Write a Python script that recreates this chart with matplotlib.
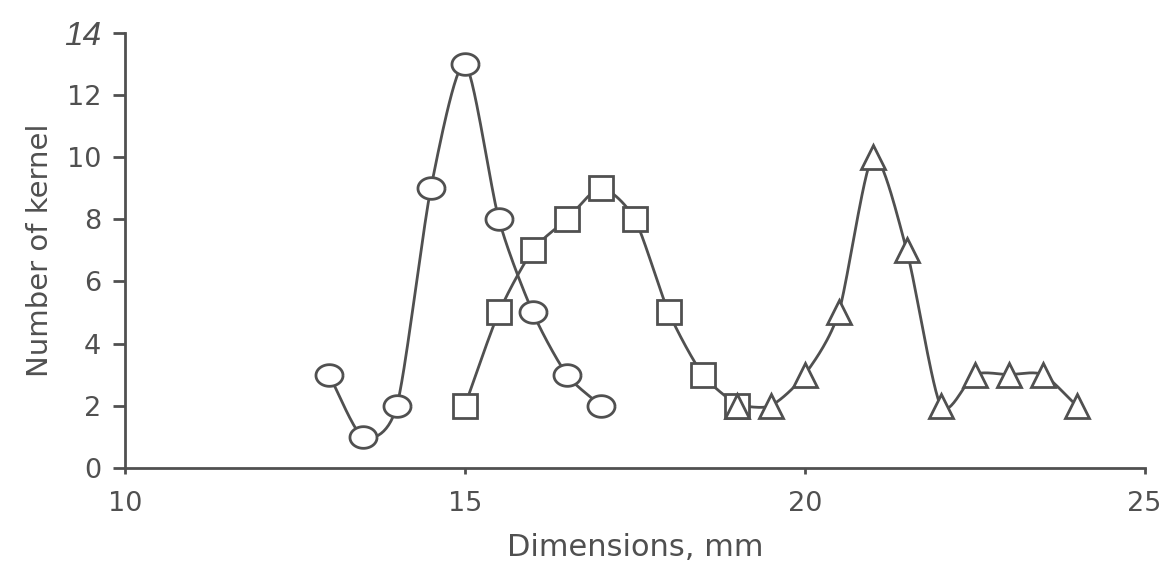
"""Kernel size distribution chart: three smoothed series with open markers."""
import matplotlib
matplotlib.use("Agg")
import matplotlib.pyplot as plt
import numpy as np
from matplotlib.path import Path

# Series data
circle_x = [13, 13.5, 14, 14.5, 15, 15.5, 16, 16.5, 17]
circle_y = [3, 1, 2, 9, 13, 8, 5, 3, 2]
square_x = [15, 15.5, 16, 16.5, 17, 17.5, 18, 18.5, 19]
square_y = [2, 5, 7, 8, 9, 8, 5, 3, 2]
triangle_x = [19, 19.5, 20, 20.5, 21, 21.5, 22, 22.5, 23, 23.5, 24]
triangle_y = [2, 2, 3, 5, 10, 7, 2, 3, 3, 3, 2]

x_ticks = [10, 15, 20, 25]
y_ticks = [0, 2, 4, 6, 8, 10, 12, 14]

INK = "#505050"
plt.rcParams["font.family"] = ["DejaVu Sans"]


def smooth(xs, ys, n=30, tension=0.75):
    """Cardinal spline through the given points (line rendering only)."""
    p = np.column_stack([xs, ys]).astype(float)
    m = np.zeros_like(p)
    m[1:-1] = (p[2:] - p[:-2]) / 2
    m[0] = p[1] - p[0]
    m[-1] = p[-1] - p[-2]
    m *= tension
    t = np.linspace(0, 1, n, endpoint=False)[:, None]
    h00 = 2 * t ** 3 - 3 * t ** 2 + 1
    h10 = t ** 3 - 2 * t ** 2 + t
    h01 = -2 * t ** 3 + 3 * t ** 2
    h11 = t ** 3 - t ** 2
    out = [h00 * p[i] + h10 * m[i] + h01 * p[i + 1] + h11 * m[i + 1]
           for i in range(len(p) - 1)]
    out.append(p[-1][None, :])
    out = np.vstack(out)
    return out[:, 0], out[:, 1]


theta = np.linspace(0, 2 * np.pi, 60)
ellipse = Path(np.column_stack([np.cos(theta), 0.8 * np.sin(theta)]))

fig = plt.figure(figsize=(11.68, 5.67), dpi=100)
ax = fig.add_axes([0.107, 0.175, 0.873, 0.767])

series = [
    (circle_x, circle_y, ellipse, 19.5),
    (square_x, square_y, "s", 17),
    (triangle_x, triangle_y, "^", 17),
]
for xs, ys, marker, size in series:
    sx, sy = smooth(xs, ys)
    ax.plot(sx, sy, color=INK, lw=2, zorder=2)
    ax.plot(xs, ys, linestyle="none", marker=marker, markersize=size,
            markerfacecolor="white", markeredgecolor=INK, markeredgewidth=2,
            zorder=3)

ax.set_xlim(10, 25)
ax.set_ylim(0, 14)
ax.set_xticks(x_ticks)
ax.set_yticks(y_ticks)
for side in ("top", "right"):
    ax.spines[side].set_visible(False)
for side in ("left", "bottom"):
    ax.spines[side].set_color(INK)
    ax.spines[side].set_linewidth(2)
ax.tick_params(axis="y", direction="out", length=9, width=2, color=INK,
               labelcolor=INK, labelsize=19.5, pad=8)
ax.tick_params(axis="x", direction="out", length=4, width=2, color=INK,
               labelcolor=INK, labelsize=19.5, pad=13)
top_label = ax.get_yticklabels()[-1]
top_label.set_style("italic")
top_label.set_family("Liberation Sans")
top_label.set_fontsize(24)

ax.set_xlabel("Dimensions, mm", fontsize=22, color=INK, labelpad=11)
ax.set_ylabel("Number of kernel", fontsize=21, color=INK, labelpad=7)

fig.savefig("out.png", dpi=100)
